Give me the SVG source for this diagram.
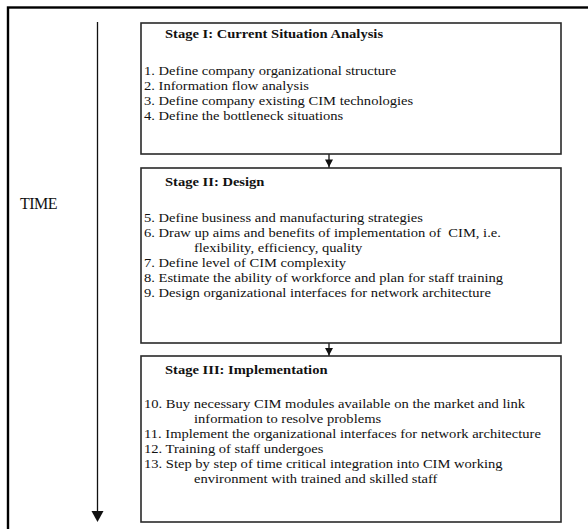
<svg xmlns="http://www.w3.org/2000/svg" width="588" height="529" viewBox="0 0 588 529">
<style>
.box{fill:#fff;stroke:#2a2a2a;stroke-width:1.6}
.t{font-family:"Liberation Serif","Times New Roman",serif;font-size:13px;fill:#111}
.h{font-family:"Liberation Serif","Times New Roman",serif;font-size:13px;font-weight:bold;fill:#111}
.ln{stroke:#111;stroke-width:1.3;fill:none}
.ah{fill:#111}
</style>
<rect width="588" height="529" fill="#fff"/>
<rect x="8" y="7.5" width="620" height="560" fill="none" stroke="#000" stroke-width="2.4"/>
<g id="time">
<text x="20" y="209" font-family="'Liberation Serif','Times New Roman',serif" font-size="16" letter-spacing="-0.5" fill="#111">TIME</text>
</g>
<g id="connectors">
<line class="ln" x1="97.5" y1="22" x2="97.5" y2="512"/>
<polygon class="ah" points="91.5,511 103.5,511 97.5,522"/>
<line class="ln" x1="329" y1="154" x2="329" y2="168"/>
<polygon class="ah" points="325,159.5 333,159.5 329,167"/>
<line class="ln" x1="329" y1="343" x2="329" y2="356"/>
<polygon class="ah" points="325,348 333,348 329,355.5"/>
</g>
<g id="stage1">
<rect class="box" x="141" y="23" width="420" height="131"/>
<g transform="matrix(1.12,0,0,1,-17.28,0)">
<text class="h" x="162.75" y="38">Stage I: Current Situation Analysis</text>
<text class="t" x="144" y="75">1. Define company organizational structure</text>
<text class="t" x="144" y="90">2. Information flow analysis</text>
<text class="t" x="144" y="105">3. Define company existing CIM technologies</text>
<text class="t" x="144" y="120">4. Define the bottleneck situations</text>
</g>
</g>
<g id="stage2">
<rect class="box" x="141" y="168" width="420" height="175"/>
<g transform="matrix(1.12,0,0,1,-17.28,0)">
<text class="h" x="162.75" y="186">Stage II: Design</text>
<text class="t" x="144" y="222">5. Define business and manufacturing strategies</text>
<text class="t" x="144" y="237" xml:space="preserve">6. Draw up aims and benefits of implementation of  CIM, i.e.</text>
<text class="t" x="188.64" y="252">flexibility, efficiency, quality</text>
<text class="t" x="144" y="267">7. Define level of CIM complexity</text>
<text class="t" x="144" y="282">8. Estimate the ability of workforce and plan for staff training</text>
<text class="t" x="144" y="297">9. Design organizational interfaces for network architecture</text>
</g>
</g>
<g id="stage3">
<rect class="box" x="141" y="356" width="420" height="166"/>
<g transform="matrix(1.12,0,0,1,-17.28,0)">
<text class="h" x="162.75" y="374">Stage III: Implementation</text>
<text class="t" x="144" y="408">10. Buy necessary CIM modules available on the market and link</text>
<text class="t" x="188.64" y="423">information to resolve problems</text>
<text class="t" x="144" y="438">11. Implement the organizational interfaces for network architecture</text>
<text class="t" x="144" y="453">12. Training of staff undergoes</text>
<text class="t" x="144" y="468">13. Step by step of time critical integration into CIM working</text>
<text class="t" x="188.64" y="483">environment with trained and skilled staff</text>
</g>
</g>
</svg>
